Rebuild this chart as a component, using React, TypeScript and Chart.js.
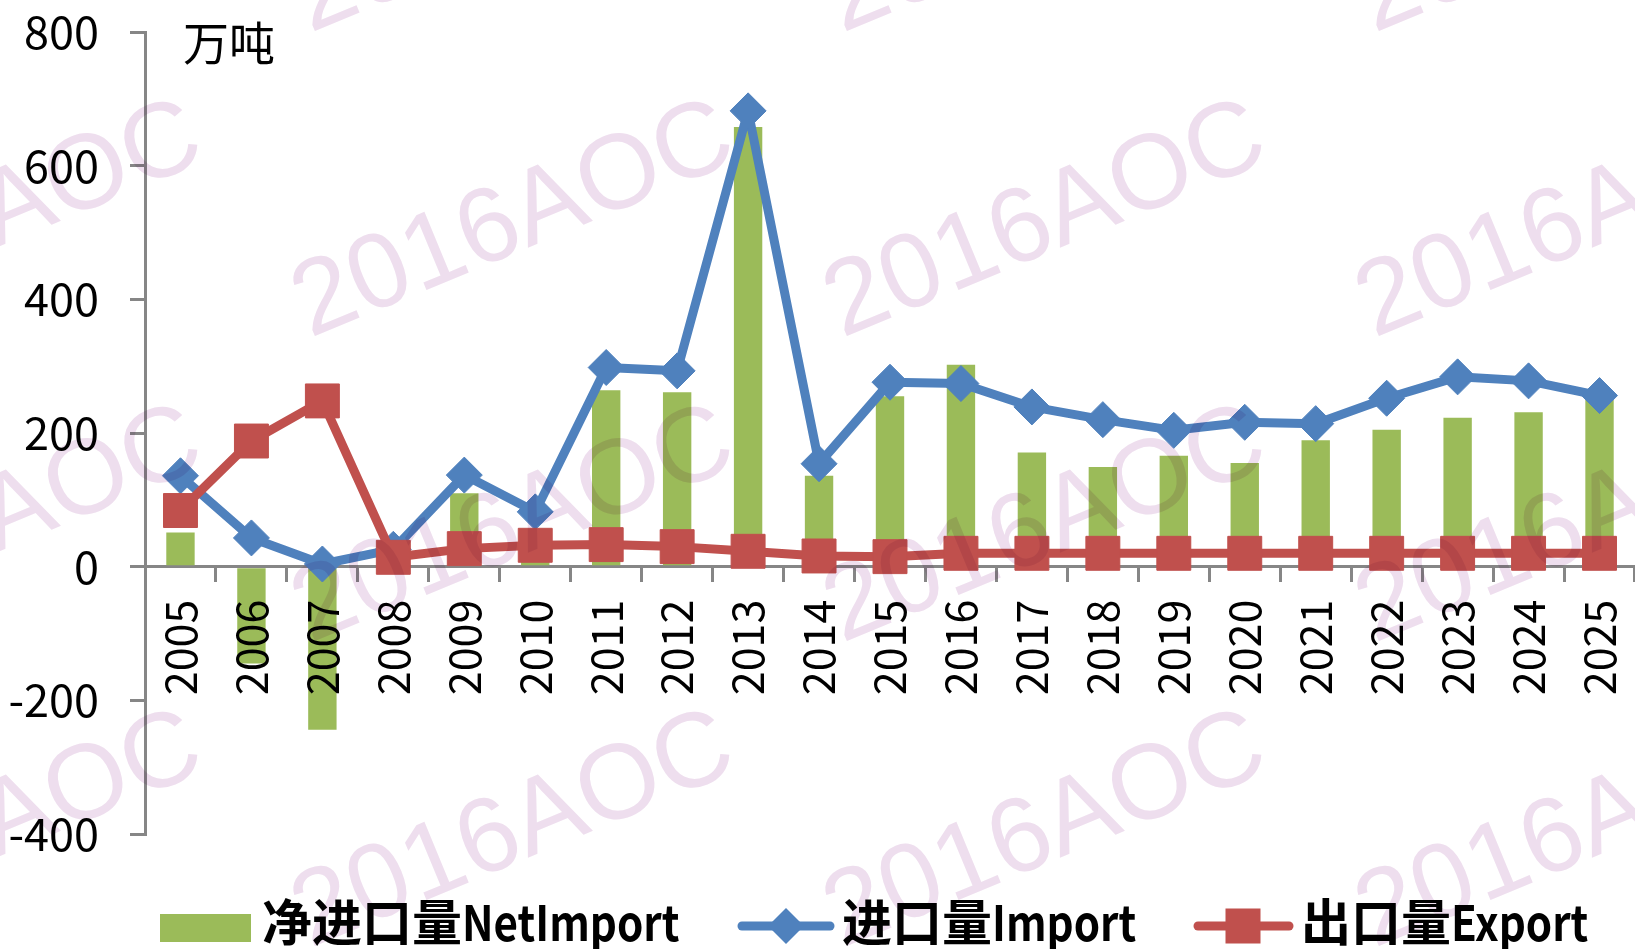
import React, { useEffect, useRef } from 'react';
import { Chart, registerables } from 'chart.js';

Chart.register(...registerables);

const years = ['2005', '2006', '2007', '2008', '2009', '2010', '2011', '2012', '2013', '2014', '2015', '2016', '2017', '2018', '2019', '2020', '2021', '2022', '2023', '2024', '2025'];
const netImport = [51, -145, -244, 12, 110, 50, 264, 261, 658, 136, 255, 302, 171, 149, 166, 155, 189, 205, 223, 231, 250];
const importVol = [136, 43, 4, 26, 137, 82, 298, 293, 682, 154, 276, 274, 239, 220, 204, 216, 214, 252, 284, 278, 256];
const exportVol = [84, 188, 248, 14, 27, 32, 33, 30, 23, 16, 15, 20, 20, 20, 20, 20, 20, 20, 20, 20, 20];
const yTickValues = [-400, -200, 0, 200, 400, 600, 800];
const unitLabel = '万吨';
const seriesNames = ['净进口量NetImport', '进口量Import', '出口量Export'];
const watermarkText = '2016AOC';

const GREEN = '#9BBB59';
const BLUE = '#4F81BD';
const RED = '#C0504D';
const AXIS = '#868686';
const FONT = '"Noto Sans CJK SC", "Open Sans", sans-serif';

const W = 1660;
const H = 949;

export default function App() {
  const ref = useRef<HTMLCanvasElement>(null);

  useEffect(() => {
    const canvas = ref.current;
    if (!canvas) return;

    const unitPlugin = {
      id: 'unitLabel',
      afterDraw(chart: any) {
        const { ctx, chartArea } = chart;
        ctx.save();
        ctx.font = `46px ${FONT}`;
        ctx.fillStyle = '#000';
        ctx.textAlign = 'left';
        ctx.textBaseline = 'middle';
        ctx.fillText(unitLabel, chartArea.left + 38, chartArea.top + 11);
        ctx.restore();
      },
    };

    const drawLabel = (ctx: any, text: string, x: number, y: number) => {
      const m = text.match(/^[^\x00-\x7F]+/);
      const cjk = m ? m[0] : '';
      const latin = text.slice(cjk.length);
      ctx.font = `bold 50px ${FONT}`;
      ctx.fillText(cjk, x, y);
      const cw = ctx.measureText(cjk).width;
      ctx.save();
      ctx.font = `bold 49px ${FONT}`;
      ctx.translate(x + cw, y);
      ctx.scale(0.86, 1);
      ctx.fillText(latin, 0, 0);
      ctx.restore();
    };

    const legendPlugin = {
      id: 'customLegend',
      afterDraw(chart: any) {
        const { ctx } = chart;
        const ds = chart.data.datasets;
        ctx.save();
        const lineY = 926;
        // bar item
        ctx.fillStyle = ds[0].backgroundColor;
        ctx.fillRect(160, 914, 91, 28);
        // import item
        ctx.strokeStyle = ds[1].borderColor;
        ctx.lineWidth = 9;
        ctx.lineCap = 'round';
        ctx.beginPath();
        ctx.moveTo(742, lineY);
        ctx.lineTo(830, lineY);
        ctx.stroke();
        ctx.fillStyle = ds[1].borderColor;
        ctx.beginPath();
        ctx.moveTo(786 - 18, lineY);
        ctx.lineTo(786, lineY - 18);
        ctx.lineTo(786 + 18, lineY);
        ctx.lineTo(786, lineY + 18);
        ctx.closePath();
        ctx.fill();
        // export item
        ctx.strokeStyle = ds[2].borderColor;
        ctx.beginPath();
        ctx.moveTo(1198, lineY);
        ctx.lineTo(1289, lineY);
        ctx.stroke();
        ctx.fillStyle = ds[2].borderColor;
        ctx.fillRect(1243 - 17.5, lineY - 17.5, 35, 35);
        // texts
        ctx.fillStyle = '#000';
        ctx.textAlign = 'left';
        ctx.textBaseline = 'alphabetic';
        drawLabel(ctx, ds[0].label, 262, 941);
        drawLabel(ctx, ds[1].label, 842, 941);
        drawLabel(ctx, ds[2].label, 1301, 941);
        ctx.restore();
      },
    };

    const watermarkPlugin = {
      id: 'watermark',
      afterDraw(chart: any) {
        const { ctx } = chart;
        ctx.save();
        ctx.globalCompositeOperation = 'multiply';
        ctx.fillStyle = 'rgb(238, 222, 238)';
        ctx.font = '106px "Liberation Sans", Arial, sans-serif';
        ctx.textAlign = 'left';
        ctx.textBaseline = 'alphabetic';
        for (let j = -1; j <= 2; j++) {
          for (let k = -1; k <= 2; k++) {
            const x = 310 + 532 * k;
            const y = 338 + 305 * j;
            ctx.save();
            ctx.translate(x, y);
            ctx.rotate((-22.5 * Math.PI) / 180);
            ctx.fillText(watermarkText, 0, 0);
            ctx.restore();
          }
        }
        ctx.restore();
      },
    };

    const chart = new Chart(canvas, {
      type: 'bar',
      data: {
        labels: years,
        datasets: [
          {
            type: 'bar',
            label: seriesNames[0],
            data: netImport,
            backgroundColor: GREEN,
            borderWidth: 0,
            barPercentage: 0.4,
            categoryPercentage: 1,
            order: 3,
          },
          {
            type: 'line',
            label: seriesNames[1],
            data: importVol,
            borderColor: BLUE,
            backgroundColor: BLUE,
            borderWidth: 9,
            borderJoinStyle: 'round',
            borderCapStyle: 'round',
            tension: 0,
            pointStyle: 'rectRot',
            pointRadius: 18,
            pointHoverRadius: 18,
            pointBackgroundColor: BLUE,
            pointBorderColor: BLUE,
            pointBorderWidth: 1,
            order: 2,
            clip: false,
          } as any,
          {
            type: 'line',
            label: seriesNames[2],
            data: exportVol,
            borderColor: RED,
            backgroundColor: RED,
            borderWidth: 9,
            borderJoinStyle: 'round',
            borderCapStyle: 'round',
            tension: 0,
            pointStyle: 'rect',
            pointRadius: 24,
            pointHoverRadius: 24,
            pointBackgroundColor: RED,
            pointBorderColor: RED,
            pointBorderWidth: 1,
            order: 1,
            clip: false,
          } as any,
        ],
      },
      options: {
        responsive: false,
        maintainAspectRatio: false,
        devicePixelRatio: 1,
        animation: false,
        layout: { padding: { left: 0, right: W - 1638, top: 32, bottom: H - 834 } },
        plugins: {
          legend: { display: false },
          tooltip: { enabled: false },
          title: { display: false },
        },
        scales: {
          x: {
            position: { y: 0 } as any,
            offset: true,
            grid: {
              display: true,
              drawOnChartArea: false,
              drawTicks: true,
              tickLength: 14,
              color: AXIS,
              lineWidth: 3,
              offset: true,
            },
            border: { display: true, color: AXIS, width: 3 },
            ticks: {
              autoSkip: false,
              minRotation: 90,
              maxRotation: 90,
              padding: 19,
              color: '#000',
              font: { family: FONT, size: 43 },
              z: 1,
            },
            afterFit: (s: any) => {
              s.paddingLeft = 0;
              s.paddingRight = 0;
            },
          },
          y: {
            min: -400,
            max: 800,
            afterBuildTicks: (s: any) => {
              s.ticks = yTickValues.map((v) => ({ value: v }));
            },
            grid: {
              display: true,
              drawOnChartArea: false,
              drawTicks: true,
              tickLength: 15,
              color: AXIS,
              lineWidth: 3,
            },
            border: { display: true, color: AXIS, width: 3 },
            ticks: {
              padding: 31,
              color: '#000',
              font: { family: FONT, size: 45 },
            },
            afterFit: (s: any) => {
              s.width = 145;
              s.paddingTop = 0;
              s.paddingBottom = 0;
            },
          },
        },
      },
      plugins: [unitPlugin, legendPlugin, watermarkPlugin],
    } as any);

    return () => {
      chart.destroy();
    };
  }, []);

  return (
    <div
      style={{
        position: 'fixed',
        left: 0,
        top: 0,
        width: 1635,
        height: 949,
        overflow: 'hidden',
        background: '#fff',
      }}
    >
      <canvas ref={ref} width={W} height={H} style={{ width: W, height: H, display: 'block' }} />
    </div>
  );
}
